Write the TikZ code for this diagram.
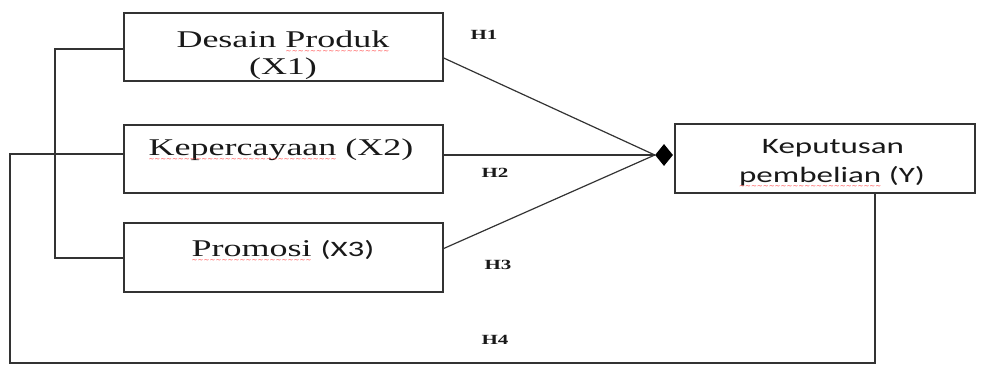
\documentclass[tikz,border=0pt]{standalone}
\usepackage{fontspec}
\usetikzlibrary{shapes.geometric,calc}
\newfontfamily\serifst[FakeStretch=1.5]{Liberation Serif}
\newfontfamily\sansst[FakeStretch=1.5]{Carlito}
\newfontfamily\wavefont{DejaVu Sans}
\definecolor{ink}{HTML}{333333}
\newsavebox\wavebox
\newcommand\redwave[1]{\sbox\wavebox{#1}\leavevmode\rlap{\usebox\wavebox}\raisebox{-6pt}{\color{red!75}\hbox to \wd\wavebox{\xleaders\hbox{\wavefont\fontsize{7}{7}\selectfont\char"223C}\hfil}}}
\tikzset{
  boxnode/.style={draw=ink, line width=1.4pt, rectangle, inner sep=0pt},
  serif/.style={font=\serifst\fontsize{24}{26}\selectfont, text=black!90, inner sep=0pt},
  sanst/.style={font=\sansst\fontsize{22}{26}\selectfont, text=black!90, inner sep=0pt},
  hlab/.style={font=\serifst\bfseries\fontsize{14}{16}\selectfont, text=black!90, inner sep=0pt},
  conn/.style={draw=ink, line width=1.2pt},
}
\begin{document}
\begin{tikzpicture}[x=1pt, y=-1pt]
\useasboundingbox (0,0) rectangle (987,365);
% boxes
\node[boxnode, minimum width=319pt, minimum height=68pt] (x1) at (283.5,47) {};
\node[boxnode, minimum width=319pt, minimum height=68pt] (x2) at (283.5,159) {};
\node[boxnode, minimum width=319pt, minimum height=69pt] (x3) at (283.5,257.5) {};
\node[boxnode, minimum width=300pt, minimum height=69pt] (y) at (825,158.5) {};
% texts
\node[serif, anchor=base] (x1a) at (283,47) {Desain \redwave{Produk}};
\node[serif, anchor=base] (x1b) at (283,74) {(X1)};
\node[serif, anchor=base] (x2t) at (281,155) {\redwave{Kepercayaan} (X2)};
\node[anchor=base, inner sep=0pt] (x3t) at (283,256) {{\serifst\fontsize{24}{26}\selectfont\color{black!90}\redwave{Promosi}}\hspace{9pt}{\sansst\fontsize{22}{26}\selectfont\color{black!90}(X3)}};
\node[sanst, anchor=base] (ya) at (833,153) {Keputusan};
\node[sanst, anchor=base] (yb) at (832,182) {\redwave{pembelian} (Y)};
% junction
\node[diamond, fill=black, minimum width=18pt, minimum height=22pt, inner sep=0pt] (j) at (664,155) {};
% connectors to junction
\draw[conn] ($(x1.east)+(0,11)$) -- (j.west);
\draw[conn] (x2.east |- j) -- (j.west);
\draw[conn] ($(x3.east)+(0,-9)$) -- (j.west);
% left bracket X1-X3
\coordinate (b1) at (55,49);
\coordinate (b2) at (55,258);
\draw[conn] (x1.west |- b1) -- (b1) -- (b2) -- (x3.west |- b2);
% outer loop X2 - Y
\coordinate (o1) at (10,154);
\coordinate (o2) at (10,363);
\coordinate (o3) at (875,363);
\draw[conn] (x2.west |- o1) -- (o1) -- (o2) -- (o3) -- (o3 |- y.south);
% labels
\node[hlab] (h1) at (484,35) {H1};
\node[hlab] (h2) at (495,173) {H2};
\node[hlab] (h3) at (498,265) {H3};
\node[hlab] (h4) at (495,340) {H4};
\end{tikzpicture}
\end{document}
